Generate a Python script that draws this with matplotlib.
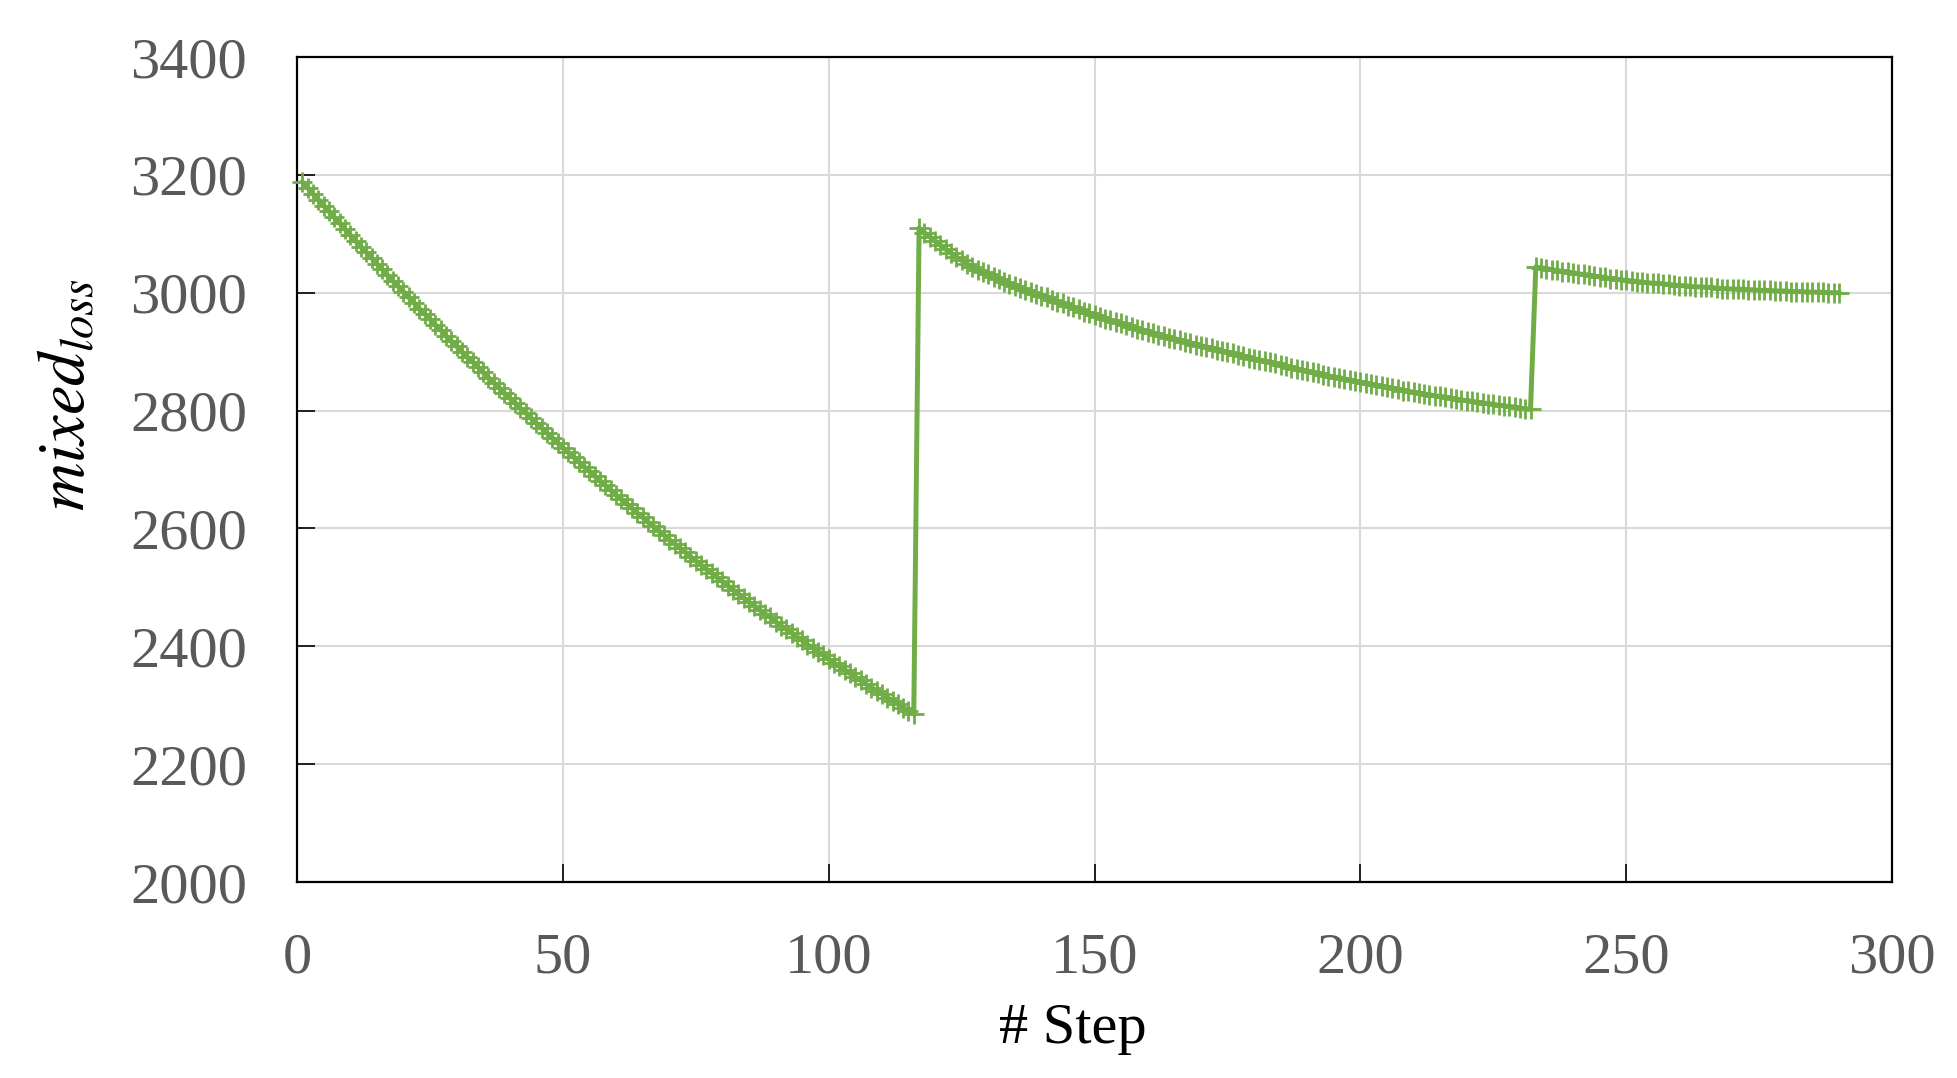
import matplotlib
matplotlib.use("Agg")
import matplotlib.pyplot as plt
import numpy as np

GREEN = "#70AD47"

# phase 1: steps 1..116
loss_phase1 = [
    3188, 3178, 3168, 3158, 3148, 3138, 3128, 3118, 3108, 3098,
    3088, 3078, 3069, 3059, 3049, 3040, 3030, 3020, 3011, 3002,
    2992, 2983, 2973, 2964, 2955, 2946, 2937, 2927, 2918, 2909,
    2900, 2891, 2883, 2874, 2865, 2856, 2847, 2839, 2830, 2821,
    2813, 2804, 2796, 2787, 2779, 2770, 2762, 2754, 2745, 2737,
    2729, 2721, 2713, 2705, 2697, 2689, 2681, 2673, 2665, 2657,
    2650, 2642, 2634, 2626, 2619, 2611, 2604, 2596, 2589, 2581,
    2574, 2567, 2560, 2552, 2545, 2538, 2531, 2524, 2517, 2510,
    2503, 2496, 2489, 2482, 2475, 2469, 2462, 2455, 2449, 2442,
    2435, 2429, 2423, 2416, 2410, 2403, 2397, 2391, 2385, 2378,
    2372, 2366, 2360, 2354, 2348, 2342, 2336, 2330, 2325, 2319,
    2313, 2308, 2302, 2296, 2291, 2285,
]

# phase 2: steps 117..232
loss_phase2 = [
    3110, 3102, 3095, 3088, 3081, 3074, 3067, 3061, 3055, 3049,
    3044, 3039, 3035, 3031, 3027, 3023, 3019, 3015, 3012, 3008,
    3005, 3002, 2998, 2995, 2992, 2988, 2985, 2982, 2978, 2975,
    2972, 2968, 2965, 2962, 2959, 2956, 2953, 2951, 2948, 2945,
    2942, 2939, 2937, 2934, 2932, 2929, 2927, 2924, 2922, 2920,
    2917, 2915, 2912, 2910, 2908, 2906, 2903, 2901, 2899, 2897,
    2895, 2892, 2890, 2888, 2886, 2884, 2882, 2880, 2877, 2875,
    2873, 2871, 2869, 2867, 2865, 2863, 2861, 2859, 2857, 2856,
    2854, 2852, 2850, 2848, 2846, 2845, 2843, 2841, 2840, 2838,
    2836, 2834, 2833, 2831, 2830, 2828, 2827, 2825, 2824, 2823,
    2821, 2820, 2818, 2817, 2816, 2814, 2813, 2812, 2811, 2809,
    2808, 2807, 2806, 2804, 2803, 2802,
]

# phase 3: steps 233..290
loss_phase3 = [
    3044, 3042, 3041, 3039, 3038, 3036, 3035, 3034, 3032, 3031,
    3030, 3028, 3027, 3026, 3024, 3023, 3022, 3021, 3020, 3019,
    3018, 3017, 3016, 3016, 3015, 3014, 3013, 3012, 3012, 3011,
    3010, 3010, 3009, 3009, 3008, 3007, 3007, 3006, 3006, 3006,
    3005, 3005, 3004, 3004, 3004, 3003, 3003, 3003, 3002, 3002,
    3002, 3001, 3001, 3001, 3001, 3000, 3000, 3000,
]

mixed_loss = loss_phase1 + loss_phase2 + loss_phase3
steps = np.arange(1, len(mixed_loss) + 1)

x_ticks = [0, 50, 100, 150, 200, 250, 300]
y_ticks = [2000, 2200, 2400, 2600, 2800, 3000, 3200, 3400]

plt.rcParams["font.family"] = ["Liberation Serif", "DejaVu Serif"]
plt.rcParams["mathtext.fontset"] = "stix"

fig = plt.figure(figsize=(19.57, 10.78), dpi=100)
ax = fig.add_axes([0.1518, 0.1818, 0.8150, 0.7653])

ax.plot(steps, mixed_loss, color=GREEN, lw=3.6, marker="+", markersize=15,
        markeredgewidth=2.0, clip_on=False, zorder=3)

ax.set_xlim(0, 300)
ax.set_ylim(2000, 3400)
ax.set_xticks(x_ticks)
ax.set_yticks(y_ticks)
ax.grid(True, color="#d9d9d9", lw=1.5, zorder=0)
ax.set_axisbelow(True)

for sp in ax.spines.values():
    sp.set_color("black")
    sp.set_linewidth(1.6)

ax.tick_params(axis="both", direction="in", length=13, width=1.2, color="black",
               labelsize=42, labelcolor="#595959")
ax.tick_params(axis="x", pad=36)
ax.tick_params(axis="y", pad=36)

fig.text(0.548, 0.0325, "# Step", fontsize=42, ha="center", va="baseline", color="black")
fig.text(0.035, 0.634, r"$mixed_{loss}$", fontsize=48, rotation=90,
         ha="center", va="center", color="black")

fig.savefig("out.png", dpi=100)
